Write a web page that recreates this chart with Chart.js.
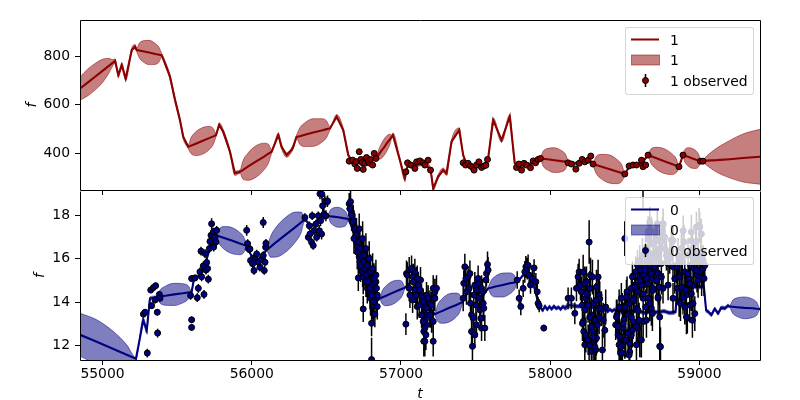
<!DOCTYPE html>
<html><head><meta charset="utf-8">
<script src="https://cdn.jsdelivr.net/npm/chart.js@4.4.1/dist/chart.umd.min.js"></script>
<style>
html,body{margin:0;padding:0;background:#fff;}
#wrap{position:relative;width:800px;height:400px;overflow:hidden;background:#fff;font-family:'DejaVu Sans',sans-serif;}
canvas{position:absolute;left:0;}
#cTop{top:0;z-index:2;}
#cBot{top:186px;z-index:1;}
.leg{position:absolute;left:625px;width:129px;height:68px;box-sizing:border-box;border:1px solid rgba(204,204,204,0.8);border-radius:3px;background:rgba(255,255,255,0.8);z-index:3;}
.leg svg{position:absolute;left:0;top:0;}
.leg span{position:absolute;left:44px;font-size:13.9px;line-height:16px;color:#000;white-space:nowrap;}
</style></head>
<body>
<div id="wrap">
<canvas id="cBot" width="800" height="214"></canvas>
<canvas id="cTop" width="800" height="195"></canvas>
</div>
<script>
// ---------- axis ranges & ticks ----------
const xRange = [54849, 59406];
const xTicks = [55000, 56000, 57000, 58000, 59000];
const topRange = [249, 950];
const topYTicks = [400, 600, 800];
const botRange = [11.33, 19.11];
const botYTicks = [12, 14, 16, 18];
const topLegend = ['1', '1', '1 observed'];
const botLegend = ['0', '0', '0 observed'];

// ---------- top panel (series "1"): model mean and spread ----------
const topT = [54850,54900,54950,55000,55040,55070,55084,55106,55129,55155,
55196,55218,55229,55246,55271,55312,55354,55379,55396,55419,
55452,55486,55519,55541,55575,55593,55621,55668,55714,55742,
55760,55782,55809,55854,55887,55921,55942,55974,56027,56080,
56112,56133,56178,56200,56234,56267,56278,56300,56322,56356,
56412,56468,56502,56524,56569,56613,56647,56680,56730,56780,
56841,56851,56865,56889,56913,56927,56937,56946,56993,57026,
57044,57100,57150,57198,57216,57249,57283,57305,57339,57390,
57417,57440,57500,57550,57584,57618,57674,57729,57763,57800,
57860,57935,57953,57981,58028,58074,58102,58120,58150,58200,
58250,58287,58308,58340,58394,58447,58479,58500,58530,58580,
58620,58656,58677,58708,58760,58811,58842,58863,58890,58902,
58919,58949,58978,58995,59007,59024,59050,59114,59203,59292,
59404,59440];
const topMean = [668,692,716,740,760,774,781,723,764,709,
826,840,826,824,821,816,810,807,805,771,
716,620,537,468,427,432,439,451,463,470,
475,517,489,407,318,324,332,345,366,386,
399,407,475,427,393,414,427,468,471,477,
486,494,500,503,551,496,393,362,368,365,
386,395,407,427,448,459,468,475,372,297,
350,352,358,335,256,304,331,318,448,496,
393,356,345,348,379,537,455,551,359,350,
355,379,378,376,372,368,366,365,358,362,
370,356,352,346,336,325,319,315,345,352,
365,393,388,381,369,357,350,345,393,390,
387,380,374,371,368,368,370,372,376,381,
386,387];
const topSd = [48,55,55,48,32,12,9,9,9,9,
9,9,7,30,43,50,43,30,7,9,
9,9,9,9,8,33,48,55,48,33,
7,9,9,9,9,7,39,56,65,56,
39,7,9,9,9,9,9,7,34,49,
57,49,34,7,9,9,8,6,6,6,
6,20,29,34,29,20,7,9,9,9,
7,7,7,7,9,9,9,9,9,9,
8,6,6,6,7,9,9,9,7,6,
6,6,31,44,51,44,31,6,6,6,
6,6,35,50,58,50,35,6,6,6,
6,6,31,44,51,44,31,6,6,25,
36,41,36,25,6,6,20,49,77,99,
113,118];

// ---------- top panel observations ----------
const topObsT = [56653,56676,56691,56700,56707,56720,56731,56740,56747,56758,56769,56780,56790,56796,56810,56821,56832,
57033,57044,57066,57093,57105,57127,57149,57160,57182,57198,
57417,57433,57450,57466,57480,57490,57506,57522,57540,57555,57569,57580,
57774,57790,57808,57825,57841,57868,57886,57902,57919,57935,
58120,58143,58172,58194,58214,58232,58254,58272,58287,
58500,58529,58555,58578,58612,58622,58640,58656,
58863,58890,59007,59024];
const topObsF = [368,372,356,366,338,407,375,362,334,359,383,365,360,375,352,400,379,
324,361,352,338,365,369,361,352,372,331,
361,352,359,348,342,331,352,365,342,348,351,375,
342,356,331,359,352,341,369,361,375,379,
361,356,335,359,375,365,372,389,356,
315,348,352,352,372,345,352,393,
345,393,368,368];
const topObsE = [6,6,7,6,6,7,6,6,7,6,6,6,7,6,6,7,6,
6,7,6,6,7,6,6,7,6,6,
6,6,7,6,6,7,6,6,7,6,6,6,
6,7,6,6,7,6,6,7,6,6,
6,6,7,6,6,7,6,6,6,
7,6,6,7,6,6,7,6,
6,6,6,6];

// ---------- bottom panel (series "0"): model mean and spread ----------
const botT = [54850,54961,55073,55162,55224,55273,55296,55318,55363,55386,
55421,55480,55538,55574,55597,55615,55650,55690,55730,55765,
55785,55815,55866,55916,55946,55966,56000,56050,56100,56126,
56164,56228,56292,56330,56356,56400,56460,56512,56526,56546,
56580,56613,56634,56647,56700,56750,56800,56859,56876,56901,
56943,56984,57009,57026,57080,57130,57180,57227,57246,57274,
57320,57367,57395,57413,57450,57500,57550,57584,57604,57633,
57682,57730,57760,57779,57830,57880,57919,57935,57950,57965,
57980,57995,58010,58025,58040,58055,58070,58085,58100,58115,
58130,58176,58250,58332,58355,58370,58385,58400,58415,58430,
58445,58500,58560,58600,58640,58680,58720,58760,58800,58840,
58852,59030,59045,59058,59080,59103,59125,59147,59170,59192,
59203,59223,59253,59303,59354,59384,59404,59420];
const botMean = [12.49,12.17,11.84,11.57,11.39,13.16,12.70,14.16,14.23,14.25,
14.29,14.35,14.40,14.44,14.46,15.14,15.2,15.8,16.7,17.07,
17.02,16.95,16.83,16.70,16.63,16.58,16.1,15.95,16.40,16.54,
16.76,17.10,17.45,17.66,17.80,17.5,17.9,17.97,17.95,17.93,
17.90,17.86,17.84,17.82,17.0,15.6,14.5,14.17,14.22,14.29,
14.42,14.54,14.61,14.66,15.0,14.3,13.8,13.44,13.50,13.58,
13.72,13.85,13.94,13.99,14.5,14.2,14.3,14.63,14.66,14.71,
14.78,14.86,14.90,14.93,15.3,15.0,14.0,13.75,13.62,13.80,
13.66,13.78,13.68,13.80,13.70,13.76,13.67,13.79,13.72,13.82,
13.86,13.8,13.8,13.66,13.58,13.68,13.56,13.66,13.58,13.65,
13.60,13.55,13.60,13.55,13.50,13.60,13.52,13.58,13.50,13.55,
14.69,14.69,13.62,13.56,13.41,13.68,13.48,13.74,13.71,13.83,
13.79,13.78,13.76,13.73,13.71,13.69,13.68,13.68];
const botSd = [0.99,1.01,0.80,0.46,0.05,0.12,0.15,0.08,0.05,0.31,
0.44,0.51,0.44,0.31,0.05,0.06,0.06,0.06,0.06,0.05,
0.36,0.52,0.60,0.52,0.36,0.05,0.05,0.05,0.05,0.48,
0.69,0.80,0.69,0.48,0.05,0.05,0.05,0.05,0.28,0.40,
0.46,0.40,0.28,0.05,0.06,0.06,0.06,0.05,0.32,0.46,
0.53,0.46,0.32,0.05,0.06,0.06,0.06,0.05,0.39,0.56,
0.65,0.56,0.39,0.05,0.06,0.06,0.06,0.05,0.33,0.48,
0.55,0.48,0.33,0.05,0.06,0.06,0.06,0.08,0.08,0.08,
0.08,0.08,0.08,0.08,0.08,0.08,0.08,0.08,0.10,0.14,
0.12,0.08,0.08,0.08,0.08,0.08,0.08,0.08,0.08,0.08,
0.08,0.08,0.08,0.08,0.08,0.08,0.08,0.08,0.08,0.08,
0.08,0.08,0.08,0.08,0.08,0.08,0.08,0.08,0.08,0.08,
0.05,0.30,0.43,0.50,0.43,0.30,0.05,0.05];

// ---------- bottom panel observations (one line per season) ----------
const botObsT = [
55274,55285,55300,55323,55329,55340,55352,55356,55367,55369,55381,55385,
55590,55597,55597,55597,55620,55635,55642,55653,55660,55664,55675,55680,55687,55693,55698,55704,55709,55716,55720,55727,55731,55742,55745,55754,55760,55765,
55966,55972,55977,55988,55992,56006,56015,56021,56033,56044,56055,56066,56077,56077,56084,56089,56093,56095,
56356,56379,56386,56390,56401,56405,56412,56417,56430,56435,56446,56452,56457,56461,56468,56470,56475,56484,56490,56497,56506,56508,
56653,56658,56662,56669,56680,56685,56691,56698,56702,56707,56714,56714,56720,56725,56729,56736,56743,56747,56747,56752,56758,56765,56769,56774,56781,56787,56792,56796,56803,56803,56803,56810,56814,56819,56825,56825,56832,56837,56841,
57033,57037,57055,57060,57071,57078,57082,57093,57093,57104,57109,57116,57127,57131,57138,57144,57149,57153,57153,57160,57160,57167,57167,57171,57171,57182,57189,57194,57198,57205,57216,57216,57220,57227,
57417,57421,57428,57435,57439,57450,57457,57462,57466,57473,57473,57479,57484,57488,57495,57495,57502,57506,57511,57517,57517,57524,57528,57535,57540,57540,57546,57551,57555,57562,57569,57573,57580,57584,
57779,57792,57803,57819,57830,57837,57846,57852,57859,57868,57881,57892,57904,57913,57919,57926,57957,
58120,58142,58165,58176,58187,58194,58203,58209,58216,58221,58225,58232,58232,58239,58243,58250,58254,58254,58261,58265,58270,58276,58276,58283,58288,58292,58299,58306,58310,58317,58321,58328,
58439,58448,58455,58462,58471,58477,58484,58489,58495,58500,58500,58506,58515,58522,58529,58533,58533,58544,58544,58551,
58556,58562,58567,58573,58578,58578,58585,58589,58589,58596,58600,58600,58607,58611,58618,58622,58623,58623,58629,58634,
58640,58645,58649,58656,58656,58656,58663,58667,58667,58674,58678,58678,58685,58689,58689,58694,58701,58707,58712,58712,
58718,58723,58723,58730,58734,58734,58741,58745,58752,58756,58756,58757,58768,58768,58779,58790,58790,58801,58812,58823,58823,58824,
58835,58846,58852,58857,58864,58868,58879,58879,58886,58890,58891,58897,58902,58913,58919,58924,58931,58935,58942,58946,
58946,58953,58957,58964,58969,58975,58980,58984,58991,58998,59002,59002,59009,59013,59015,59020,59024,59025,59031,59036];
const botObsF = [
13.44,13.53,11.65,14.55,13.83,14.66,14.09,14.75,13.53,12.57,14.35,14.17,
14.30,13.18,12.83,15.08,15.11,14.20,14.63,15.39,16.34,15.16,15.66,14.35,16.23,15.47,15.82,15.54,15.05,16.46,16.79,17.07,17.60,17.22,16.53,16.99,16.76,17.30,
17.30,16.69,16.46,16.44,15.91,15.76,15.45,16.06,16.21,15.83,15.60,15.98,16.14,17.66,15.45,15.83,16.52,16.70,
17.89,16.98,17.51,17.13,16.75,17.97,16.60,17.28,17.59,16.98,17.97,17.28,18.98,17.74,17.13,18.96,18.43,18.04,18.65,17.97,18.62,18.65,
18.52,18.29,18.62,18.06,17.75,17.53,17.30,17.07,16.76,16.53,16.30,15.11,16.08,15.85,15.62,16.38,15.39,15.16,13.68,15.85,15.54,14.93,15.24,14.63,15.01,14.78,14.47,14.17,14.78,13.02,11.35,14.02,13.86,14.55,14.32,13.44,14.93,14.17,13.79,
12.98,15.31,15.47,14.32,15.54,14.09,15.16,15.39,14.55,15.01,13.79,14.78,14.55,15.01,14.25,13.41,14.02,12.64,12.19,13.79,13.18,13.41,12.49,12.95,14.32,14.17,13.79,13.94,13.41,13.18,14.63,12.19,14.17,14.47,
14.17,14.86,15.62,15.08,14.47,15.16,14.63,15.31,13.94,12.64,13.41,11.96,13.25,14.32,14.78,12.49,13.86,12.95,14.55,14.86,15.08,14.17,13.64,13.25,14.63,12.80,14.47,13.94,13.71,12.80,15.01,15.31,15.73,15.47,
15.01,14.17,13.79,14.63,15.39,15.62,15.54,15.69,15.24,14.78,15.08,15.57,14.93,14.47,13.94,13.83,12.80,
14.17,14.17,13.48,14.63,15.16,15.39,14.78,14.47,13.86,13.10,12.64,13.64,12.03,14.17,14.93,14.32,13.86,12.26,16.76,14.63,15.24,13.41,11.73,12.64,12.03,13.94,13.18,11.80,12.34,12.95,13.71,14.32,
12.95,13.41,12.49,12.03,11.65,14.17,13.71,12.80,13.18,12.19,16.92,13.86,14.47,13.41,12.64,13.94,11.70,14.63,12.49,15.16,
13.10,14.17,14.78,15.39,13.71,12.03,15.69,14.47,12.80,15.08,15.92,12.26,15.47,14.78,16.15,19.6,14.17,13.10,15.24,15.62,
16.46,15.08,15.92,16.92,14.17,17.25,15.39,16.23,17.68,15.69,17.22,13.71,15.08,16.00,14.63,16.69,15.54,16.92,16.15,16.85,
17.60,15.31,14.17,16.31,11.96,16.44,16.76,15.77,17.22,17.60,14.63,17.59,16.46,16.98,16.15,15.77,14.78,16.00,16.84,15.62,14.17,16.82,
15.08,15.69,14.63,16.15,14.02,15.24,16.46,15.98,15.85,14.63,17.28,16.76,15.39,14.32,13.25,16.15,15.08,13.86,15.69,17.22,
16.82,16.46,14.78,15.54,16.00,16.76,17.45,15.24,16.23,17.53,15.39,17.46,16.15,17.13,15.08,15.77,15.54,15.91,15.08,15.69];
const botObsE = [
.15,.15,.2,.15,.15,.15,.15,.15,.15,.2,.15,.15,
.2,.15,.15,.15,.15,.2,.2,.2,.2,.2,.2,.2,.2,.2,.2,.2,.2,.2,.2,.2,.25,.2,.2,.2,.2,.2,
.25,.2,.2,.2,.2,.2,.2,.2,.2,.2,.2,.2,.2,.25,.2,.2,.2,.2,
.2,.2,.2,.2,.2,.2,.2,.2,.2,.2,.2,.25,.25,.25,.25,.25,.25,.25,.25,.25,.25,.25,
.5,.6,.6,.6,.6,.7,.6,.7,.6,.7,.6,.6,.7,.6,.7,.6,.7,.8,.6,.7,.8,.7,.8,.7,.8,.7,.8,.8,.7,.6,1.0,.8,.8,.7,.7,.6,.6,.6,.6,
.5,.6,.6,.6,.6,.6,.6,.6,.6,.6,.6,.6,.6,.6,.6,.6,.6,.6,.7,.6,.6,.6,.7,.6,.6,.6,.6,.6,.6,.6,.6,.7,.6,.6,
.6,.6,.6,.6,.6,.5,.6,.6,.6,.6,.6,.7,.6,.6,.6,.6,.6,.6,.6,.6,.6,.6,.6,.6,.6,.6,.6,.6,.6,.6,.6,.6,.6,.6,
.4,.4,.4,.4,.5,.5,.5,.5,.4,.4,.4,.4,.4,.4,.3,.3,.15,
.5,.5,.5,.6,.6,.6,.7,.7,.7,.7,.7,.7,.7,.7,.7,.8,.8,.7,1.0,.8,.8,.8,.8,.8,.8,.8,.8,.8,.8,.8,.8,.8,
.7,.7,.8,.8,.9,.7,.7,.8,.7,.8,.8,.7,.7,.7,.8,.7,.9,.7,.8,.7,
.8,.7,.7,.7,.7,.9,.7,.7,.8,.7,.7,.8,.7,.7,.8,1.3,.7,.8,.7,.7,
.7,.7,.7,.7,.7,.7,.7,.7,.7,.7,.7,.8,.7,.7,.7,.7,.7,.7,.7,.7,
.7,.7,.7,.7,.9,.7,.7,.7,.7,.7,.7,.7,.7,.7,.7,.7,.7,.7,.7,.7,.7,.7,
.7,.8,.7,.8,.7,.8,.7,.7,.8,.7,.7,.8,.7,.8,.7,.8,.7,.8,.7,.8,
.7,.8,.7,.8,.7,.8,.7,.8,.7,.8,.7,.7,.8,.7,.8,.7,.8,.7,.8,.7];

// ---------- further bottom observations read from the densest seasons ----------
const botObsT2 = [
56658,56669,56680,56691,56702,56714,56725,56736,56747,56758,56769,56781,56792,56803,56814,56825,56836,56685,56707,56729,56752,56774,56796,56819,56841,56720,56743,56765,56787,56810,56832,
57042,57055,57071,57082,57100,57109,57122,57138,57149,57160,57171,57182,57194,57205,57216,57227,57238,57160,
58221,58232,58243,58254,58265,58276,58288,58299,58310,58321,58332,58343,58355,58366,58216,58239,58261,58283,58305,58328,58350,58372,
58444,58455,58466,58477,58489,58500,58511,58522,58533,58544,58556,58567,58578,58589,58600,58611,58623,58634,58645,58656,
58667,58678,58689,58701,58712,58723,58734,58745,58484,58529,58462,58506,58551,58596,58640,58685,58730,58739,
58850,58864,58879,58890,58902,58913,58924,58935,58946,58957,58969,58980,58991,58873,58908,58953];
const botObsF2 = [
18.29,17.98,17.68,17.37,17.07,16.76,16.46,16.15,15.85,15.54,15.24,14.93,14.63,14.32,14.02,14.93,14.63,16.92,16.30,15.69,16.15,15.69,15.39,15.08,14.32,17.37,16.92,16.46,16.00,15.54,15.24,
15.24,14.63,15.54,14.93,14.32,15.08,13.86,13.41,13.10,12.80,13.71,14.17,13.41,13.86,13.10,14.17,14.63,12.19,
15.37,14.84,14.38,13.85,13.31,12.86,12.40,11.94,14.69,15.15,14.15,13.70,13.16,12.70,13.01,12.48,12.02,15.15,14.08,13.31,11.79,13.77,
13.31,12.86,12.40,11.94,13.01,13.77,14.23,12.55,12.09,13.31,14.08,14.69,12.86,13.62,14.99,12.25,14.38,15.45,13.16,14.84,
13.93,15.30,14.54,15.60,14.99,14.23,13.31,15.15,11.64,11.56,13.77,12.25,12.70,13.16,13.77,13.47,14.69,11.94,
15.60,15.15,14.69,14.23,13.77,13.31,15.30,14.84,14.38,13.93,13.47,15.45,14.99,13.93,14.54,13.16];
const botObsE2 = [
.7,.7,.8,.7,.8,.7,.8,.7,.8,.7,.8,.7,.8,.7,.7,.7,.6,.7,.8,.7,.8,.7,.8,.7,.6,.7,.8,.7,.8,.7,.7,
.6,.6,.6,.6,.6,.6,.6,.6,.6,.7,.6,.6,.6,.6,.6,.6,.6,.7,
.8,.8,.8,.8,.8,.8,.8,.9,.8,.8,.8,.8,.8,.8,.8,.8,.9,.8,.8,.8,.9,.8,
.8,.8,.8,.9,.8,.8,.8,.8,.9,.8,.8,.8,.8,.8,.8,.8,.8,.8,.8,.8,
.8,.8,.8,.8,.8,.8,.8,.8,.9,.9,.8,.8,.8,.8,.8,.8,.8,.9,
.8,.8,.8,.8,.8,.8,.8,.8,.8,.8,.8,.8,.8,.8,.8,.8];

// ---------- helpers that build library datasets from the arrays ----------
const FONT = 'DejaVu Sans';
Chart.defaults.font.family = FONT;
Chart.defaults.font.size = 13.9;
Chart.defaults.color = '#000';

function pts(T, V) { return T.map((t, i) => ({x: t, y: V[i]})); }
function bandEdge(T, M, S, sgn) { return T.map((t, i) => ({x: t, y: M[i] + sgn * S[i]})); }
function errSegs(T, F, E) {
  const out = [];
  T.forEach((t, i) => { out.push({x: t, y: F[i] - E[i]}, {x: t, y: F[i] + E[i]}, {x: t, y: null}); });
  return out;
}
const frame = {
  id: 'frame',
  afterDraw(chart, args, opts) {
    const {ctx, chartArea: a} = chart;
    const l = Math.round(a.left) + 0.5, r = Math.round(a.right) + 0.5;
    const t = Math.round(a.top) + 0.5, b = Math.round(a.bottom) + 0.5;
    ctx.save();
    ctx.strokeStyle = '#000';
    ctx.lineWidth = 1;
    ctx.beginPath();
    if (opts.drawTop) { ctx.moveTo(l, t); ctx.lineTo(r, t); }
    ctx.moveTo(l, t); ctx.lineTo(l, b);
    ctx.moveTo(r, t); ctx.lineTo(r, b);
    ctx.moveTo(l, b); ctx.lineTo(r, b);
    ctx.stroke();
    ctx.restore();
  }
};

function panel(canvasId, o) {
  const fillCol = o.rgb.replace('rgb', 'rgba').replace(')', ',0.5)');
  return new Chart(document.getElementById(canvasId), {
    type: 'line',
    data: {
      datasets: [
        {data: pts(o.obsT, o.obsF), showLine: false, pointRadius: 3, pointStyle: 'circle',
         pointBackgroundColor: o.rgb, pointBorderColor: '#000', pointBorderWidth: 1, clip: 0, order: 0},
        {data: errSegs(o.obsT, o.obsF, o.obsE), borderColor: '#000', borderWidth: 1.5, pointRadius: 0,
         spanGaps: false, fill: false, clip: 0, order: 1},
        {data: pts(o.T, o.M), borderColor: o.rgb, borderWidth: 2.1, pointRadius: 0, fill: false, clip: 0, order: 2},
        {data: bandEdge(o.T, o.M, o.S, 1), borderColor: fillCol, borderWidth: 1, pointRadius: 0,
         cubicInterpolationMode: 'monotone', fill: false, clip: 0, order: 3},
        {data: bandEdge(o.T, o.M, o.S, -1), borderColor: fillCol, borderWidth: 1, pointRadius: 0,
         cubicInterpolationMode: 'monotone', fill: 3, backgroundColor: fillCol, clip: 0, order: 4}
      ]
    },
    options: {
      responsive: false, animation: false, events: [],
      layout: {padding: {top: o.padTop, right: 40, bottom: 0, left: 0}},
      plugins: {legend: {display: false}, tooltip: {enabled: false}, frame: {drawTop: o.drawTop}},
      scales: {
        x: {
          type: 'linear', min: xRange[0], max: xRange[1],
          afterBuildTicks: s => { s.ticks = xTicks.map(v => ({value: v})); },
          afterFit: s => { s.height = o.xH; s.paddingLeft = 0; s.paddingRight = 0; },
          ticks: {display: o.xLabels, padding: 1, color: '#000', font: {size: 13.9}, maxRotation: 0,
                  callback: v => String(v)},
          grid: {drawOnChartArea: false, drawTicks: true, tickLength: 5, color: '#000', lineWidth: 1},
          border: {display: false},
          title: {display: o.xLabels, text: 't', color: '#000',
                  font: {family: FONT, size: 13.9, style: 'italic', lineHeight: 0.76},
                  padding: {top: 0, bottom: 0}}
        },
        y: {
          type: 'linear', min: o.yRange[0], max: o.yRange[1],
          afterBuildTicks: s => { s.ticks = o.yTicks.map(v => ({value: v})); },
          afterFit: s => { s.width = 80; s.paddingTop = 0; s.paddingBottom = 0; },
          ticks: {padding: 5, color: '#000', font: {size: 13.9}, callback: v => String(v)},
          grid: {drawOnChartArea: false, drawTicks: true, tickLength: 5, color: '#000', lineWidth: 1},
          border: {display: false},
          title: {display: true, text: 'f', color: '#000',
                  font: {family: FONT, size: 13.9, style: 'italic', lineHeight: 0.76},
                  padding: {top: o.yTitlePad, bottom: 0}}
        }
      }
    },
    plugins: [frame]
  });
}

panel('cTop', {T: topT, M: topMean, S: topSd, obsT: topObsT, obsF: topObsF, obsE: topObsE,
  rgb: 'rgb(139,0,0)', yRange: topRange, yTicks: topYTicks, padTop: 20, xH: 5, xLabels: false,
  yTitlePad: 26.9, drawTop: true});
panel('cBot', {T: botT, M: botMean, S: botSd,
  obsT: botObsT.concat(botObsT2), obsF: botObsF.concat(botObsF2), obsE: botObsE.concat(botObsE2),
  rgb: 'rgb(0,0,128)', yRange: botRange, yTicks: botYTicks, padTop: 4, xH: 40, xLabels: true,
  yTitlePad: 34.7, drawTop: false});

// ---------- legends (drawn over the axes, like the reference) ----------
function legend(top, rgb, labels) {
  const fillCol = rgb.replace('rgb', 'rgba').replace(')', ',0.5)');
  const d = document.createElement('div');
  d.className = 'leg';
  d.style.top = top + 'px';
  d.innerHTML =
    '<svg width="127" height="66">' +
    '<line x1="5" y1="11.5" x2="33" y2="11.5" stroke="' + rgb + '" stroke-width="2"/>' +
    '<rect x="5.5" y="27" width="28" height="10" fill="' + fillCol + '" stroke="' + fillCol + '" stroke-width="1"/>' +
    '<line x1="19.5" y1="46" x2="19.5" y2="59" stroke="#000" stroke-width="1.5"/>' +
    '<circle cx="19.5" cy="52.5" r="3" fill="' + rgb + '" stroke="#000" stroke-width="1"/>' +
    '</svg>' +
    '<span style="top:3.5px">' + labels[0] + '</span>' +
    '<span style="top:24px">' + labels[1] + '</span>' +
    '<span style="top:44.5px">' + labels[2] + '</span>';
  document.getElementById('wrap').appendChild(d);
}
legend(27, 'rgb(139,0,0)', topLegend);
legend(197, 'rgb(0,0,128)', botLegend);
</script>
</body></html>
